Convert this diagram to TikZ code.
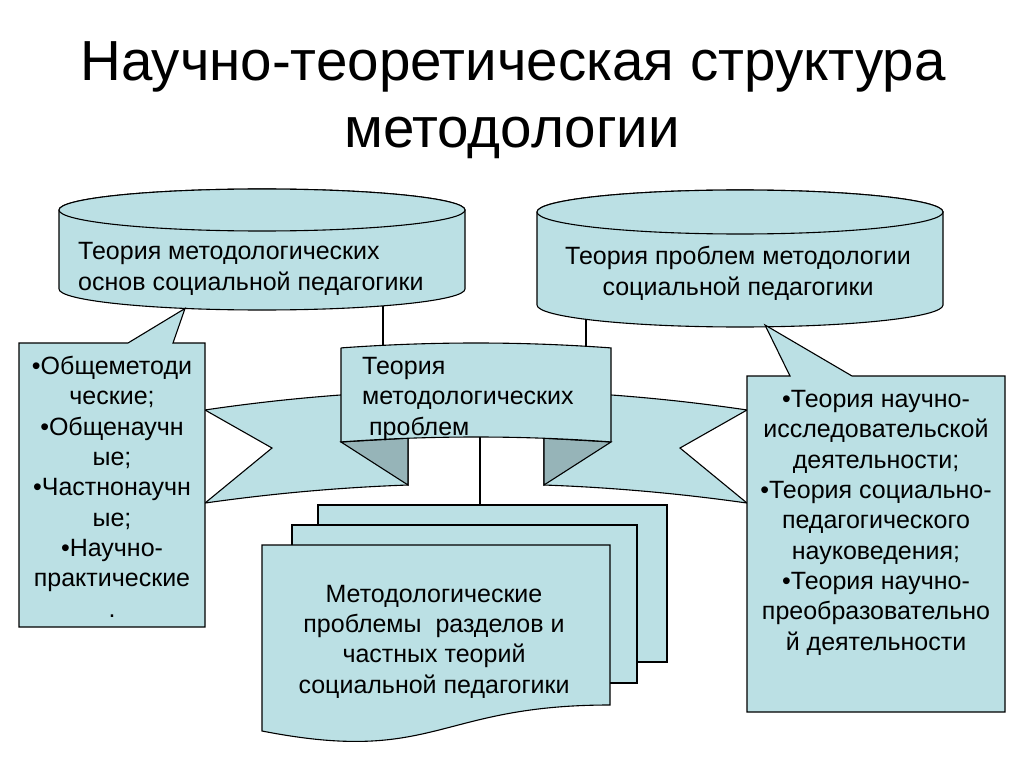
\documentclass[tikz,border=0pt]{standalone}
\usepackage{fontspec}
\setmainfont{Liberation Sans}
\definecolor{fillc}{RGB}{187,224,228}
\definecolor{foldc}{RGB}{150,180,184}
\begin{document}
\begin{tikzpicture}[x=1pt,y=-1pt,
  shp/.style={draw=black,fill=fillc,line width=1.1pt},
  fold/.style={draw=black,fill=foldc,line width=1.1pt},
  conn/.style={draw=black,line width=1.1pt},
  txt/.style={font=\fontsize{25}{30.3}\selectfont,inner sep=0pt},
  ttl/.style={font=\fontsize{56.5}{67}\selectfont,inner sep=0pt}]
\useasboundingbox[fill=white] (0,0) rectangle (1024,767);
% title
\node[ttl,anchor=base] (title1) at (513,81) {Научно-теоретическая структура};
\node[ttl,anchor=base] (title2) at (512,148) {методологии};
% left cylinder
\path[shp] (59,210) -- (59,289) arc[start angle=180,end angle=0,x radius=203,y radius=21]
  -- (465,210) arc[start angle=0,end angle=-180,x radius=203,y radius=21] -- cycle;
\path[shp] (262,210) ellipse[x radius=203,y radius=21];
\node[txt,anchor=base west,align=left] (cylLtxt) at (78,290) {Теория методологических\\основ социальной педагогики};
% right cylinder
\path[shp] (537,212) -- (537,305) arc[start angle=180,end angle=0,x radius=203,y radius=22]
  -- (943,212) arc[start angle=0,end angle=-180,x radius=203,y radius=22] -- cycle;
\path[shp] (740,212) ellipse[x radius=203,y radius=22];
\node[txt,anchor=base,align=center] (cylRtxt) at (738,295) {Теория проблем методологии\\социальной педагогики};
% ribbon wings
\path[shp] (205,410) -- plot[domain=205:408,samples=40] (\x,{390+2.72*((\x-476)/100)^2})
  -- (408,485) -- plot[domain=408:205,samples=40] (\x,{483.8+2.62*((\x-476)/100)^2})
  -- (272,448) -- cycle;
\path[shp] (747,410) -- plot[domain=747:544,samples=40] (\x,{390+2.72*((\x-476)/100)^2})
  -- (544,485) -- plot[domain=544:747,samples=40] (\x,{483.8+2.62*((\x-476)/100)^2})
  -- (680,448) -- cycle;
\path[fold] (341,442) -- (408,438.2) -- (408,485) -- cycle;
\path[fold] (611,442) -- (544,438.2) -- (544,485) -- cycle;
\path[shp] (341,347.9) -- plot[domain=341:611,samples=40] (\x,{343+2.7*((\x-476)/100)^2})
  -- (611,442) -- plot[domain=611:341,samples=40] (\x,{437+2.7*((\x-476)/100)^2}) -- cycle;
\node[txt,anchor=base west,align=left] (bantxt) at (362,435) {Теория\\методологических\\\ проблем};
% connectors
\coordinate (cL) at (383,305.9);
\coordinate (bT1) at (383,345.3);
\coordinate (cR) at (586,319.3);
\coordinate (bT2) at (586,346.3);
\coordinate (bB) at (480,437.1);
\coordinate (docT) at (480,505);
\draw[conn] (cL) -- (bT1);
\draw[conn] (cR) -- (bT2);
\draw[conn] (bB) -- (docT);
% left callout
\path[shp] (19,343) -- (128,343) -- (185,308.5) -- (173,343) -- (205,343) -- (205,627) -- (19,627) -- cycle;
\node[txt,anchor=base,align=center] (calLtxt) at (112,617) {•Общеметоди\\ческие;\\•Общенаучн\\ые;\\•Частнонаучн\\ые;\\•Научно-\\практические\\.};
% right callout
\path[shp] (747,376) -- (790,376) -- (765,325) -- (852,376) -- (1005,376) -- (1005,712) -- (747,712) -- cycle;
\node[txt,anchor=base,align=center] (calRtxt) at (876,650) {•Теория научно-\\исследовательской\\деятельности;\\•Теория социально-\\педагогического\\науковедения;\\•Теория научно-\\преобразовательно\\й деятельности};
% multidocument
\path[shp] (318,505) rectangle (667,662);
\path[shp] (292,525) rectangle (637,683);
\path[shp] (262,545) -- (610,545) -- (610,705) .. controls (436,705) and (436,765) .. (262,731) -- cycle;
\node[txt,anchor=base,align=center] (doctxt) at (434,693) {Методологические\\проблемы\ \ разделов и\\частных теорий\\социальной педагогики};
\end{tikzpicture}
\end{document}
